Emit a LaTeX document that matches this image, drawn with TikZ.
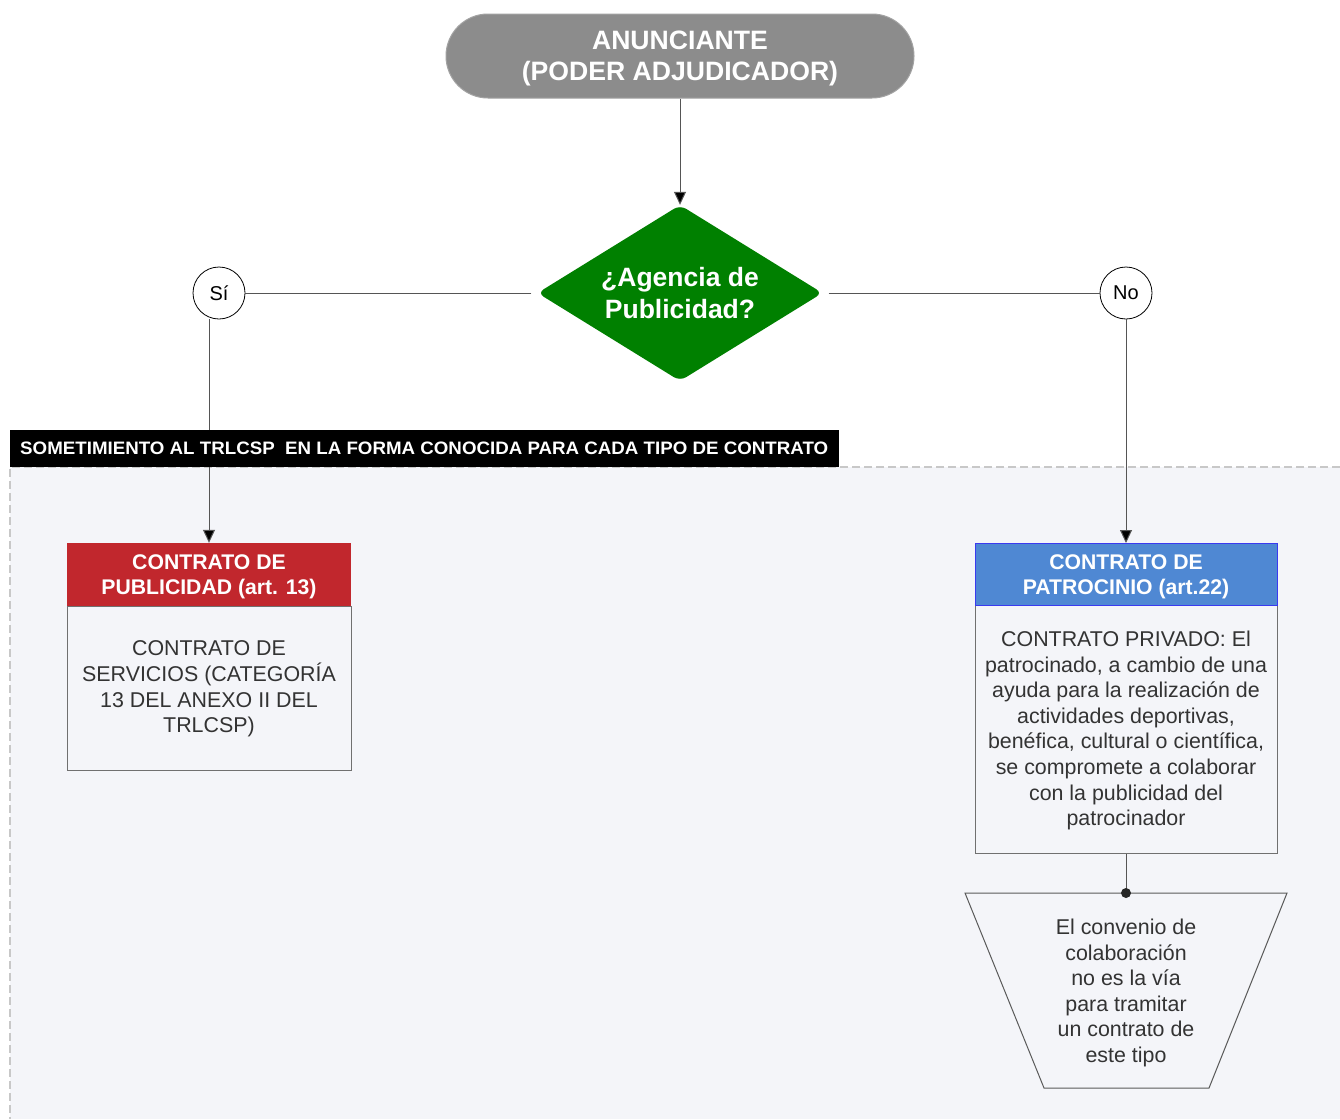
\documentclass[tikz,border=0pt]{standalone}
\usepackage{fontspec}
\setmainfont{Liberation Sans}
\usetikzlibrary{shapes.geometric,arrows.meta}
\definecolor{panelbg}{HTML}{F4F5F9}
\definecolor{paneledge}{HTML}{C8C8C8}
\definecolor{pillgray}{HTML}{8C8C8C}
\definecolor{dgreen}{HTML}{008000}
\definecolor{hred}{HTML}{C1272D}
\definecolor{hblue}{HTML}{4F88D3}
\definecolor{hblueedge}{HTML}{3A3AF0}
\definecolor{boxedge}{HTML}{707070}
\definecolor{txt}{HTML}{333333}
\definecolor{conn}{HTML}{555555}
\begin{document}
\begin{tikzpicture}[x=1pt,y=-1pt,
  headtxt/.style={text=white,font=\bfseries\fontsize{21.2}{25}\selectfont,align=center,inner sep=0pt},
  bodytxt/.style={text=txt,font=\fontsize{21.4}{25.6}\selectfont,align=center,inner sep=0pt},
  ans/.style={circle,draw=black,fill=white,line width=0.8pt,minimum size=52pt,inner sep=0pt,font=\fontsize{20}{22}\selectfont,text=black},
  conline/.style={draw=conn,line width=1pt},
  arr/.style={conline,-{Triangle[width=12pt,length=13pt,fill=black]}}]
\useasboundingbox (0,0) rectangle (1340,1119);
\fill[white] (0,0) rectangle (1340,1119);
% panel
\fill[panelbg] (10,467) rectangle (1340,1119);
\draw[paneledge,line width=1.5pt,dash pattern=on 8pt off 4pt] (1340,467) -- (10,467) -- (10,1119);
% nodes
\node[rectangle,rounded corners=42pt,fill=pillgray,draw=pillgray!80!white,line width=1pt,
  minimum width=468pt,minimum height=84pt,inner sep=0pt] (pill) at (680,56) {};
\node[text=white,font=\bfseries\fontsize{26.6}{31}\selectfont,align=center,inner sep=0pt] (pilltxt) at (680,58.5) {ANUNCIANTE\\(PODER ADJUDICADOR)};
\node[diamond,aspect=1.62,fill=dgreen,rounded corners=7pt,minimum width=285pt,minimum height=176pt,inner sep=0pt] (dec) at (680,293) {};
\node[text=white,font=\bfseries\fontsize{26.5}{32}\selectfont,align=center,inner sep=0pt] (dectxt) at (680,293) {¿Agencia de\\Publicidad?};
\node[ans] (si) at (219,293) {Sí};
\node[ans] (no) at (1126,293) {No};
\node[rectangle,fill=hred,minimum width=284pt,minimum height=63pt,inner sep=0pt] (rhead) at (209,574.5) {};
\node[headtxt] at (209,576.5) {CONTRATO DE\\PUBLICIDAD (art. 13)};
\node[rectangle,fill=panelbg,draw=boxedge,line width=1pt,minimum width=284pt,minimum height=164pt,anchor=north] (rbody) at (209,606) {};
\node[bodytxt] at (209,689) {CONTRATO DE\\SERVICIOS (CATEGORÍA\\13 DEL ANEXO II DEL\\TRLCSP)};
\node[rectangle,fill=panelbg,draw=boxedge,line width=1pt,minimum width=302pt,minimum height=248pt,anchor=north] (bbody) at (1126,605) {};
\node[rectangle,fill=hblue,draw=hblueedge,line width=1pt,minimum width=302pt,minimum height=62pt,inner sep=0pt] (bhead) at (1126,574.5) {};
\node[headtxt] at (1126,576.5) {CONTRATO DE\\PATROCINIO (art.22)};
\node[bodytxt] at (1126,730.5) {CONTRATO PRIVADO: El\\patrocinado, a cambio de una\\ayuda para la realización de\\actividades deportivas,\\benéfica, cultural o científica,\\se compromete a colaborar\\con la publicidad del\\patrocinador};
% trapezium
\coordinate (trtop) at (1126,893);
\draw[fill=panelbg,draw=boxedge!80!black,line width=1pt] (965,893) -- (1287,893) -- (1209,1088) -- (1044,1088) -- cycle;
\node[bodytxt] (trtxt) at (1126,993) {El convenio de\\colaboración\\no es la vía\\para tramitar\\un contrato de\\este tipo};
% connectors
\draw[arr] (pill.south) -- (dec.north);
\draw[conline,shorten <=6pt] (dec.west) -- (si.east);
\draw[conline,shorten <=6pt] (dec.east) -- (no.west);
\draw[arr] (si.south -| rhead.north) -- (rhead.north);
\draw[arr] (no.south) -- (bhead.north);
\draw[conline] (bbody.south) -- (trtop);
\fill[black!85] (trtop) circle (5pt);
% black bar
\node[rectangle,fill=black,minimum width=829pt,minimum height=37pt,inner sep=0pt,anchor=north west] (bar) at (10,430) {};
\node[text=white,font=\bfseries\fontsize{18}{20}\selectfont,inner sep=0pt,anchor=west] (bartxt) at (20,448.5)
  {\resizebox{808pt}{\height}{SOMETIMIENTO AL TRLCSP\ \ EN LA FORMA CONOCIDA PARA CADA TIPO DE CONTRATO}};
\end{tikzpicture}
\end{document}
